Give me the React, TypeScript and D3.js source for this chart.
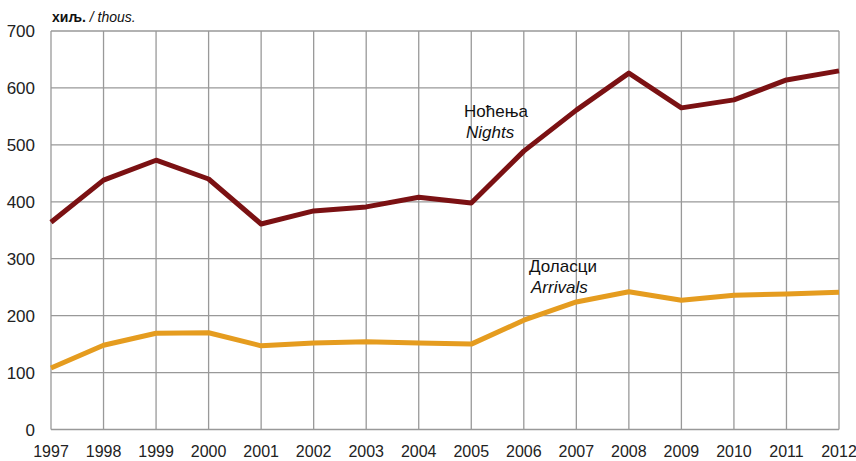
import { useEffect, useRef } from "react";
import * as d3 from "d3";

const years = [1997, 1998, 1999, 2000, 2001, 2002, 2003, 2004, 2005, 2006, 2007, 2008, 2009, 2010, 2011, 2012];
const nights = [364, 438, 473, 440, 361, 384, 391, 408, 398, 489, 561, 626, 565, 579, 614, 630];
const arrivals = [108, 148, 169, 170, 147, 152, 154, 152, 150, 192, 224, 242, 227, 236, 238, 241];
const yTicks = [0, 100, 200, 300, 400, 500, 600, 700];

const W = 856;
const H = 461;
const FONT = "'Liberation Sans Narrow', 'Arial Narrow', 'Liberation Sans', sans-serif";

export default function App() {
    const ref = useRef<SVGSVGElement>(null);

    useEffect(() => {
        const svg = d3.select(ref.current);
        svg.selectAll("*").remove();

        const x = d3.scaleLinear().domain([1997, 2012]).range([51, 839]);
        const y = d3.scaleLinear().domain([0, 700]).range([429.5, 31]);

        // grid
        svg.append("g")
            .selectAll("line")
            .data(years)
            .join("line")
            .attr("x1", (d) => x(d))
            .attr("x2", (d) => x(d))
            .attr("y1", y(0))
            .attr("y2", y(700))
            .attr("stroke", "#999")
            .attr("stroke-width", 1.3);

        svg.append("g")
            .selectAll("line")
            .data(yTicks)
            .join("line")
            .attr("x1", x(1997))
            .attr("x2", x(2012))
            .attr("y1", (d) => y(d))
            .attr("y2", (d) => y(d))
            .attr("stroke", "#999")
            .attr("stroke-width", 1.3);

        // tick labels
        svg.append("g")
            .selectAll("text")
            .data(yTicks)
            .join("text")
            .attr("x", 35)
            .attr("y", (d) => y(d) + 6)
            .attr("text-anchor", "end")
            .attr("font-family", FONT)
            .attr("font-size", 17)
            .attr("fill", "#222")
            .text((d) => d);

        svg.append("g")
            .selectAll("text")
            .data(years)
            .join("text")
            .attr("x", (d) => x(d))
            .attr("y", 457)
            .attr("text-anchor", "middle")
            .attr("font-family", FONT)
            .attr("font-size", 16)
            .attr("fill", "#222")
            .text((d) => d);

        const line = d3.line<number>()
            .x((_, i) => x(years[i]))
            .y((d) => y(d));

        svg.append("path")
            .datum(arrivals)
            .attr("fill", "none")
            .attr("stroke", "#e59c1f")
            .attr("stroke-width", 5)
            .attr("stroke-linejoin", "round")
            .attr("d", line);

        svg.append("path")
            .datum(nights)
            .attr("fill", "none")
            .attr("stroke", "#7b1113")
            .attr("stroke-width", 5)
            .attr("stroke-linejoin", "round")
            .attr("d", line);

        // unit label
        const unit = svg.append("text")
            .attr("x", 52)
            .attr("y", 22)
            .attr("font-family", FONT)
            .attr("font-size", 14)
            .attr("fill", "#111");
        unit.append("tspan").attr("font-weight", "bold").text("хиљ.");
        unit.append("tspan").attr("font-style", "italic").text(" / thous.");

        // series labels
        const labels = [
            { sr: "Ноћења", en: "Nights", x: 464, y: 117 },
            { sr: "Доласци", en: "Arrivals", x: 529, y: 272 },
        ];
        labels.forEach((l) => {
            svg.append("text")
                .attr("x", l.x)
                .attr("y", l.y)
                .attr("font-family", FONT)
                .attr("font-size", 17)
                .attr("fill", "#111")
                .text(l.sr);
            svg.append("text")
                .attr("x", l.x + 2)
                .attr("y", l.y + 21)
                .attr("font-family", FONT)
                .attr("font-size", 17)
                .attr("font-style", "italic")
                .attr("fill", "#111")
                .text(l.en);
        });
    }, []);

    return (
        <svg
            ref={ref}
            width={W}
            height={H}
            style={{ position: "absolute", left: 0, top: 0, background: "white" }}
        />
    );
}
